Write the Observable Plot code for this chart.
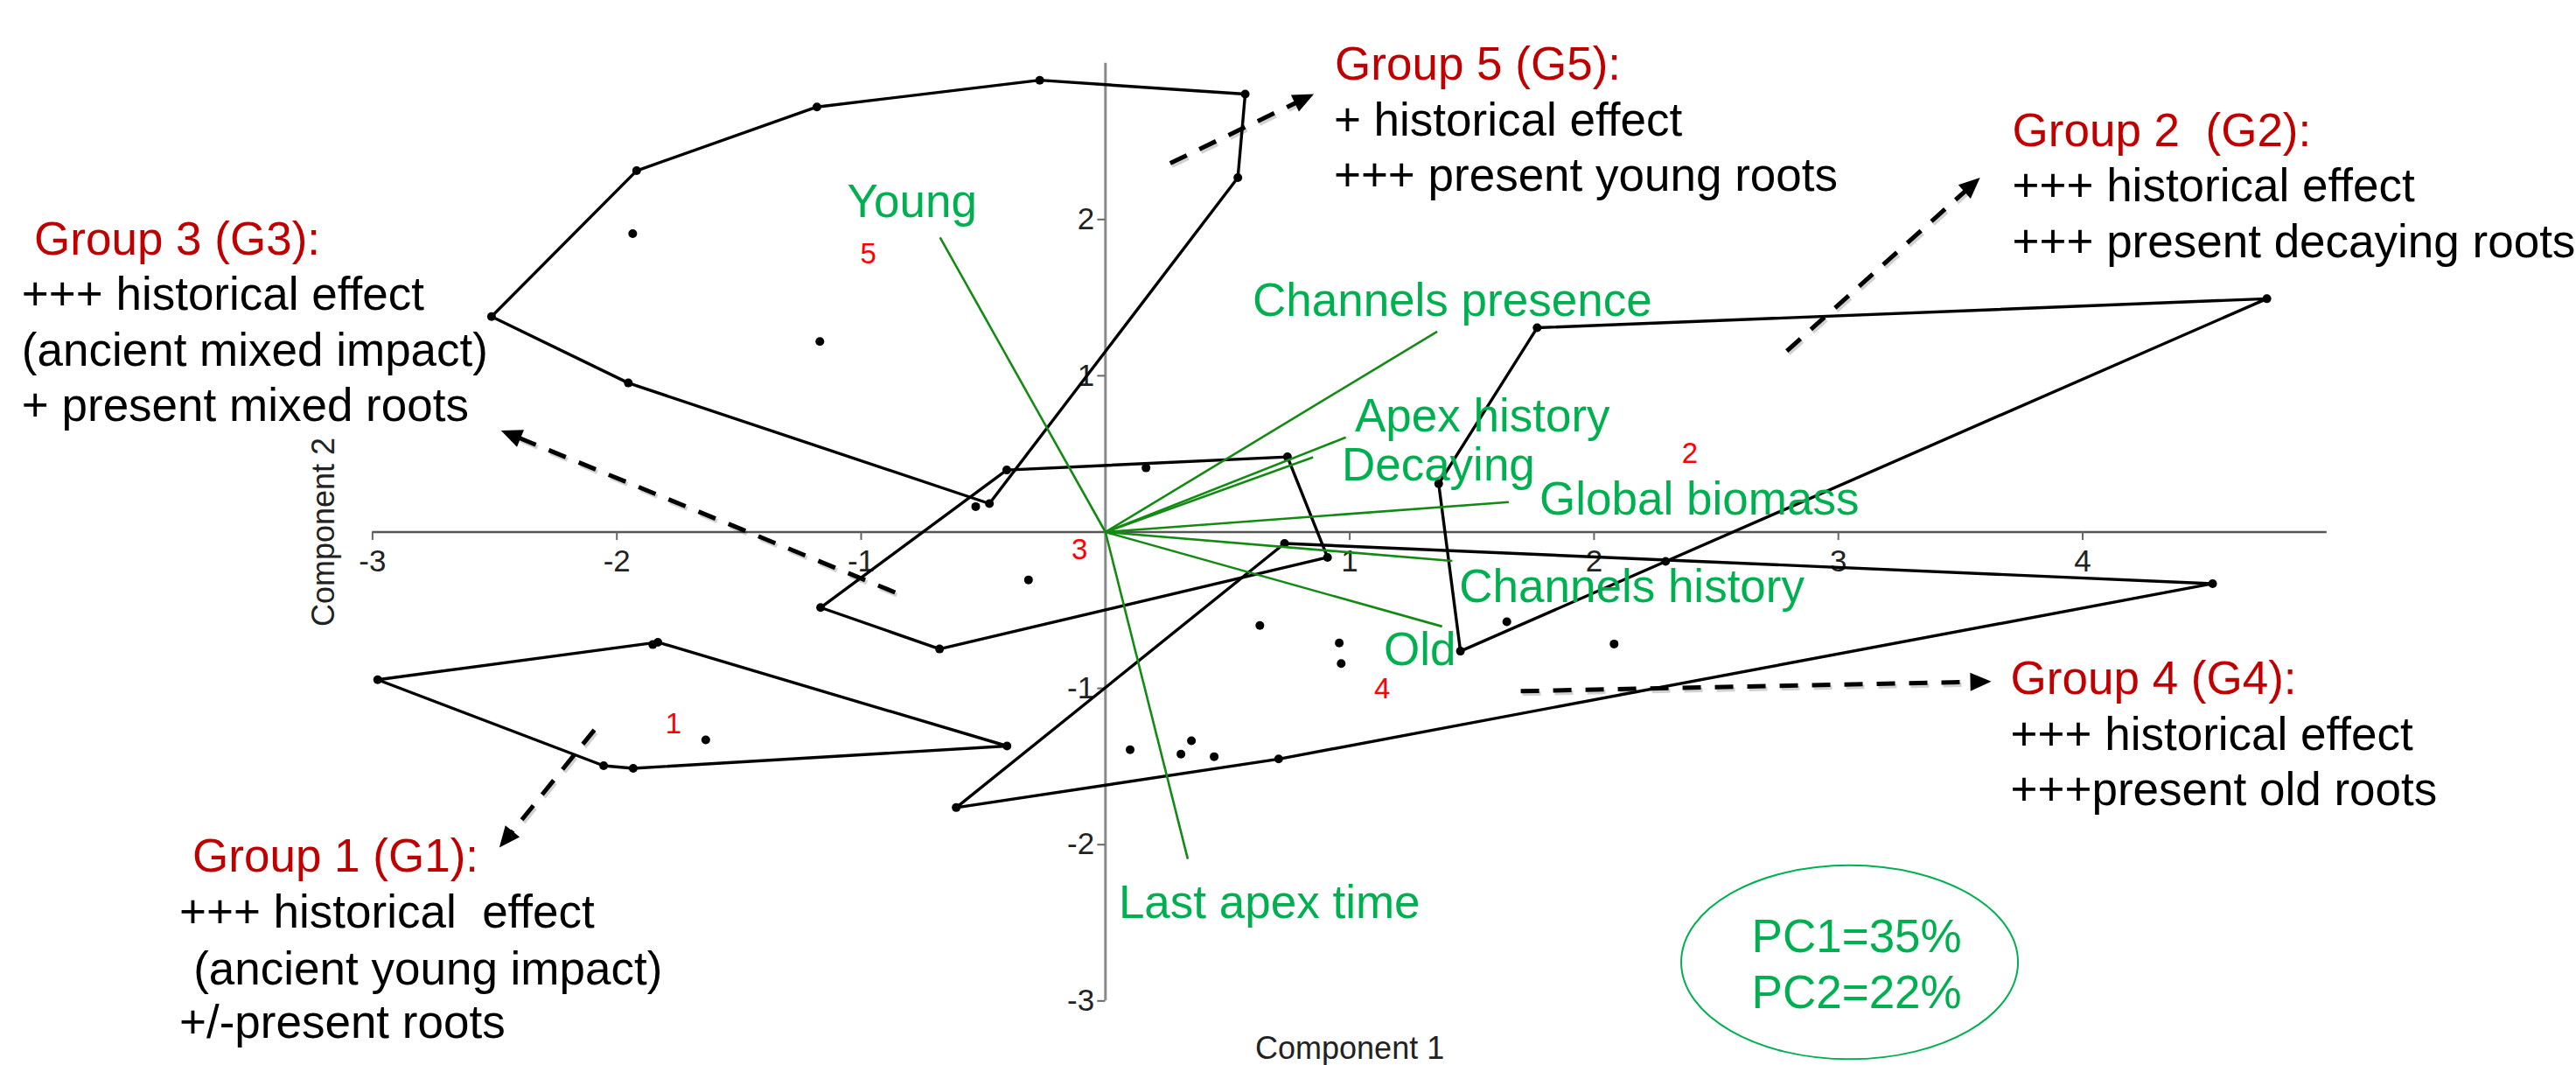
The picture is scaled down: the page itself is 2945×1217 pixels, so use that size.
<!DOCTYPE html>
<html>
<head>
<meta charset="utf-8">
<script src="https://cdn.jsdelivr.net/npm/d3@7"></script>
<script src="https://cdn.jsdelivr.net/npm/@observablehq/plot@0.6"></script>
<style>
  html, body { margin: 0; padding: 0; background: #fff; }
  svg text { white-space: pre; }
</style>
</head>
<body>
<div id="chart"></div>
<script>
// ---------------- DATA ----------------
// PCA scores of the observations (Component 1, Component 2) and their group
const scoreGroup = [
  "G1","G1","G1","G1","G1","G1","G1",
  "G2","G2","G2","G2","G2","G2",
  "G3","G3","G3","G3","G3","G3","G3","G3",
  "G4","G4","G4","G4","G4","G4","G4","G4","G4","G4","G4","G4",
  "G5","G5","G5","G5","G5","G5","G5","G5","G5","G5"
];
const scorePC1 = [
  -2.979, -1.853, -1.832, -2.054, -1.933, -1.636, -0.403,
  1.364, 1.767, 4.754, 2.293, 1.453, 1.643,
  -0.404, 0.745, 0.909, -0.679, -1.166, 0.166, -0.315, -0.531,
  -0.611, 0.733, 4.532, 0.709, 0.101, 0.309, 0.352, 0.445, 0.632, 0.957, 0.965, 2.082,
  -2.513, -1.919, -1.181, -0.269, 0.572, 0.542, -0.475, -1.953, -1.935, -1.169
];
const scorePC2 = [
  -0.945, -0.720, -0.705, -1.495, -1.512, -1.330, -1.369,
  0.309, 1.307, 1.493, -0.188, -0.762, -0.574,
  0.397, 0.481, -0.162, -0.748, -0.483, 0.411, -0.306, 0.163,
  -1.763, -0.073, -0.330, -1.452, -1.393, -1.421, -1.335, -1.437, -0.598, -0.710, -0.841, -0.716,
  1.379, 2.312, 2.720, 2.891, 2.802, 2.268, 0.182, 0.954, 1.909, 1.219
];

// Variable loadings (biplot vectors)
const variables = ["Young", "Channels presence", "Apex history", "Decaying",
                   "Global biomass", "Channels history", "Old", "Last apex time"];
const loadPC1 = [-0.677, 1.358, 0.984, 0.850, 1.651, 1.420, 1.378, 0.337];
const loadPC2 = [ 1.885, 1.283, 0.606, 0.479, 0.192, -0.185, -0.604, -2.092];
// where each variable name is written (text start, baseline)
const varLabelX = [-1.057, 0.602, 1.021, 0.967, 1.777, 1.448, 1.139, 0.054];
const varLabelY = [ 2.013, 1.381, 0.643, 0.330, 0.112, -0.447, -0.850, -2.472];

// group numbers (red)
const groupIds = ["1", "2", "3", "4", "5"];
const groupIdX = [-1.768, 2.392, -0.106, 1.133, -0.971];
const groupIdY = [-1.230, 0.500, -0.115, -1.005, 1.776];

// axis ticks
const xTicks = [-3, -2, -1, 1, 2, 3, 4];
const yTicks = [-3, -2, -1, 1, 2];

// explained variance
const varianceText = ["PC1=35%", "PC2=22%"];

// group descriptions
const noteText = [
  "Group 3 (G3):", "+++ historical effect", "(ancient mixed impact)", "+ present mixed roots",
  "Group 5 (G5):", "+ historical effect", "+++ present young roots",
  "Group 2  (G2):", "+++ historical effect", "+++ present decaying roots",
  "Group 4 (G4):", "+++ historical effect", "+++present old roots",
  "Group 1 (G1):", "+++ historical  effect", "(ancient young impact)", "+/-present roots"
];
const noteIsTitle = [1,0,0,0, 1,0,0, 1,0,0, 1,0,0, 1,0,0,0];
const noteX = [
  -4.385, -4.436, -4.436, -4.436,
  0.939, 0.935, 0.935,
  3.712, 3.712, 3.712,
  3.705, 3.705, 3.705,
  -3.737, -3.791, -3.733, -3.791
];
const noteY = [
  1.773, 1.421, 1.063, 0.710,
  2.897, 2.539, 2.181,
  2.472, 2.114, 1.756,
  -1.035, -1.393, -1.745,
  -2.173, -2.532, -2.895, -3.238
];

// dashed pointer arrows (tail -> tip)
const arrowX1 = [0.265, 2.789, -0.861, -2.092, 1.700];
const arrowY1 = [2.360, 1.158, -0.386, -1.266, -1.018];
const arrowX2 = [0.853, 3.580, -2.474, -2.481, 3.626];
const arrowY2 = [2.802, 2.267, 0.650, -2.019, -0.956];

// ---------------- LAYOUT ----------------
const W = 2945, H = 1217;
const mL = 425.4, mR = 285.2, mT = 71.7, mB = 73.7;
const xDomain = [-3, 5], yDomain = [-3, 3];
const FONT = "'Liberation Sans', Arial, Helvetica, sans-serif";
const GREEN_TXT = "#00b050", GREEN_LINE = "#138a13", DARK_RED = "#c00000";

const scores = scoreGroup.map((g, i) => ({group: g, pc1: scorePC1[i], pc2: scorePC2[i]}));
const loadings = variables.map((v, i) => ({name: v, pc1: loadPC1[i], pc2: loadPC2[i], lx: varLabelX[i], ly: varLabelY[i]}));
const groupLabels = groupIds.map((g, i) => ({g, x: groupIdX[i], y: groupIdY[i]}));
const notes = noteText.map((t, i) => ({t, x: noteX[i], y: noteY[i], title: noteIsTitle[i] === 1}));

const sx = Plot.scale({x: {domain: xDomain, range: [mL, W - mR]}});
const sy = Plot.scale({y: {domain: yDomain, range: [H - mB, mT]}});

const arrows = arrowX1.map((x1, i) => {
  const p1 = [sx.apply(x1), sy.apply(arrowY1[i])];
  const p2 = [sx.apply(arrowX2[i]), sy.apply(arrowY2[i])];
  const dx = p2[0] - p1[0], dy = p2[1] - p1[1], len = Math.hypot(dx, dy);
  const ux = dx / len, uy = dy / len;
  return {
    x1, y1: arrowY1[i],
    x2: sx.invert(p2[0] - 14 * ux), y2: sy.invert(p2[1] - 14 * uy),
    tx: arrowX2[i], ty: arrowY2[i], ux, uy
  };
});

function headSymbol(ux, uy, L = 24, hw = 10.5) {
  return {
    draw(ctx) {
      const bx = -L * ux, by = -L * uy, px = -uy * hw, py = ux * hw;
      ctx.moveTo(0, 0);
      ctx.lineTo(bx + px, by + py);
      ctx.lineTo(bx - px, by - py);
      ctx.closePath();
    }
  };
}

const ellipseSymbol = {
  draw(ctx) {
    const rx = 192.5, ry = 110.8, k = 0.5522847;
    ctx.moveTo(rx, 0);
    ctx.bezierCurveTo(rx, k * ry, k * rx, ry, 0, ry);
    ctx.bezierCurveTo(-k * rx, ry, -rx, k * ry, -rx, 0);
    ctx.bezierCurveTo(-rx, -k * ry, -k * rx, -ry, 0, -ry);
    ctx.bezierCurveTo(k * rx, -ry, rx, -k * ry, rx, 0);
    ctx.closePath();
  }
};

const chart = Plot.plot({
  width: W,
  height: H,
  marginLeft: mL, marginRight: mR, marginTop: mT, marginBottom: mB,
  x: {domain: xDomain, axis: null},
  y: {domain: yDomain, axis: null},
  style: {fontFamily: FONT, background: "#fff", overflow: "visible"},
  marks: [
    // axes through the origin
    Plot.ruleY([0], {x1: -3, x2: 5, stroke: "#555", strokeWidth: 2.5}),
    Plot.ruleX([0], {y1: -3, y2: 3, stroke: "#8a8a8a", strokeWidth: 3}),
    Plot.ruleX(xTicks, {x: d => d, y1: 0, y2: -0.053, stroke: "#666", strokeWidth: 2}),
    Plot.ruleY(yTicks, {y: d => d, x1: -0.032, x2: 0, stroke: "#666", strokeWidth: 2}),
    Plot.text(xTicks, {x: d => d, y: -0.19, text: d => String(d), fontSize: 35, fill: "#222", lineAnchor: "middle"}),
    Plot.text(yTicks, {x: -0.045, y: d => d, text: d => String(d), fontSize: 35, fill: "#222", textAnchor: "end", lineAnchor: "middle"}),
    Plot.text(["Component 1"], {x: 1, y: -3.37, text: d => d, fontSize: 36, fill: "#222", lineAnchor: "bottom"}),
    Plot.text(["Component 2"], {x: -3.158, y: 0, text: d => d, fontSize: 36, fill: "#222", rotate: -90, lineAnchor: "bottom"}),

    // group hulls and observations
    Plot.hull(scores, {x: "pc1", y: "pc2", z: "group", stroke: "#000", strokeWidth: 3.4, strokeLinejoin: "round"}),
    Plot.dot(scores, {x: "pc1", y: "pc2", r: 5, fill: "#000"}),

    // variable vectors
    Plot.link(loadings, {x1: 0, y1: 0, x2: "pc1", y2: "pc2", stroke: GREEN_LINE, strokeWidth: 2.6}),
    Plot.text(loadings, {x: "lx", y: "ly", text: "name", fontSize: 53, fill: GREEN_TXT, textAnchor: "start", lineAnchor: "bottom"}),

    // group numbers
    Plot.text(groupLabels, {x: "x", y: "y", text: "g", fontSize: 33, fill: "#ff0000", lineAnchor: "middle"}),

    // group descriptions
    Plot.text(notes, {x: "x", y: "y", text: "t", fontSize: 53, fill: d => d.title ? DARK_RED : "#000", textAnchor: "start", lineAnchor: "bottom"}),

    // dashed pointer arrows
    Plot.link(arrows, {x1: "x1", y1: "y1", x2: "x2", y2: "y2", stroke: "#000", strokeOpacity: 0.18, strokeWidth: 5, strokeDasharray: "21,16", dx: 2, dy: 3}),
    Plot.link(arrows, {x1: "x1", y1: "y1", x2: "x2", y2: "y2", stroke: "#000", strokeWidth: 5, strokeDasharray: "21,16"}),
    ...arrows.map(a => Plot.dot([a], {x: "tx", y: "ty", r: 10, symbol: headSymbol(a.ux, a.uy), fill: "#000", stroke: "none"})),

    // variance ellipse
    Plot.dot([{x: 3.046, y: -2.752}], {x: "x", y: "y", r: 100, symbol: ellipseSymbol, fill: "none", stroke: GREEN_TXT, strokeWidth: 2}),
    Plot.text(varianceText, {x: 3.075, y: (d, i) => i === 0 ? -2.690 : -3.046, text: d => d, fontSize: 53, fill: GREEN_TXT, lineAnchor: "bottom"})
  ]
});

document.getElementById("chart").appendChild(chart);
</script>
</body>
</html>
